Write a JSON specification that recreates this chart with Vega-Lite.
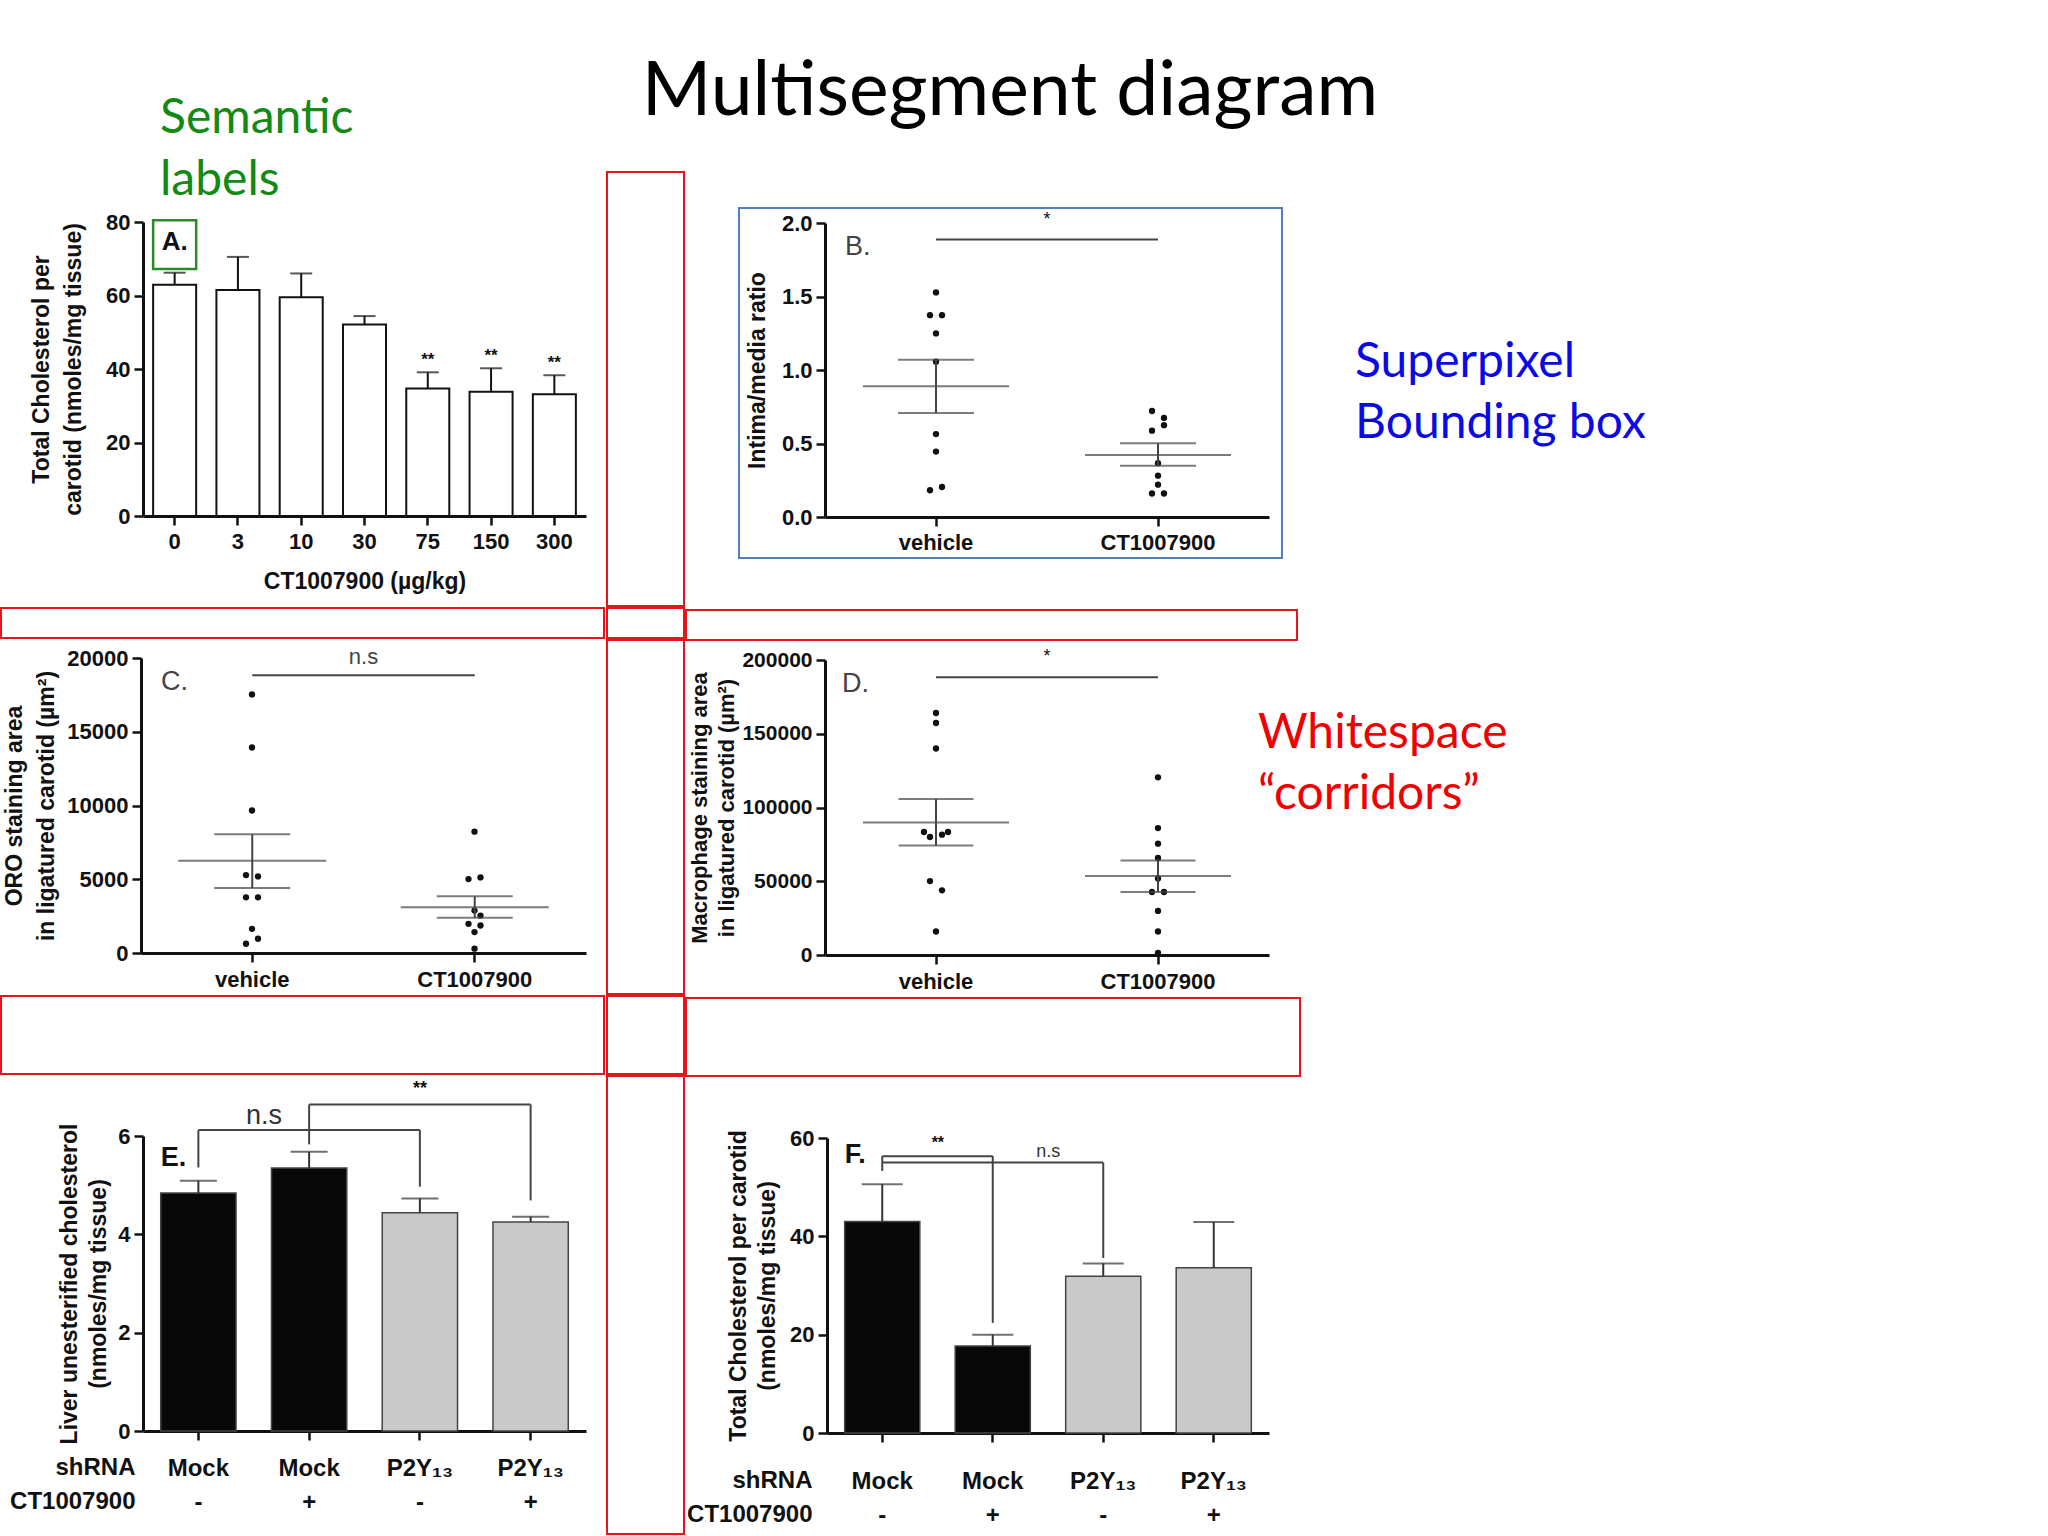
{
"$schema": "https://vega.github.io/schema/vega-lite/v6.json",
"padding": 0,
"background": "white",
"data": {"values": [{}]},
"datasets": {
"A": [
{"dose":"0","mean":62.9,"upper":66.2,"stars":""},
{"dose":"3","mean":61.5,"upper":70.5,"stars":""},
{"dose":"10","mean":59.5,"upper":66.0,"stars":""},
{"dose":"30","mean":52.1,"upper":54.4,"stars":""},
{"dose":"75","mean":34.7,"upper":39.1,"stars":"**"},
{"dose":"150","mean":33.8,"upper":40.2,"stars":"**"},
{"dose":"300","mean":33.1,"upper":38.3,"stars":"**"}],
"A_lab": [{"at":"0","y":74.6,"lo":67.2,"hi":80.5,"label":"A."}],
"B_pts": [
{"group":"vehicle","value":1.528,"slot":"C"},{"group":"vehicle","value":1.373,"slot":"L"},{"group":"vehicle","value":1.373,"slot":"R"},
{"group":"vehicle","value":1.249,"slot":"C"},{"group":"vehicle","value":1.056,"slot":"C"},{"group":"vehicle","value":0.564,"slot":"C"},
{"group":"vehicle","value":0.445,"slot":"C"},{"group":"vehicle","value":0.182,"slot":"L"},{"group":"vehicle","value":0.204,"slot":"R"},
{"group":"CT1007900","value":0.721,"slot":"L"},{"group":"CT1007900","value":0.674,"slot":"R"},{"group":"CT1007900","value":0.625,"slot":"R"},
{"group":"CT1007900","value":0.587,"slot":"L"},{"group":"CT1007900","value":0.366,"slot":"C"},{"group":"CT1007900","value":0.281,"slot":"C"},
{"group":"CT1007900","value":0.220,"slot":"C"},{"group":"CT1007900","value":0.160,"slot":"L"},{"group":"CT1007900","value":0.160,"slot":"R"}],
"B_sum": [{"group":"vehicle","mean":0.89,"lo":0.708,"hi":1.07},{"group":"CT1007900","mean":0.422,"lo":0.348,"hi":0.501}],
"B_sig": [{"from":"vehicle","to":"CT1007900","y":1.888,"label":"*"}],
"B_lab": [{"at":"vehicle","y":1.84,"label":"B."}],
"C_pts": [
{"group":"vehicle","value":17528,"slot":"C"},{"group":"vehicle","value":13933,"slot":"C"},{"group":"vehicle","value":9663,"slot":"C"},
{"group":"vehicle","value":5281,"slot":"L"},{"group":"vehicle","value":5191,"slot":"R"},{"group":"vehicle","value":3775,"slot":"L"},
{"group":"vehicle","value":3775,"slot":"R"},{"group":"vehicle","value":1640,"slot":"C"},{"group":"vehicle","value":966,"slot":"R"},
{"group":"vehicle","value":629,"slot":"L"},
{"group":"CT1007900","value":8225,"slot":"C"},{"group":"CT1007900","value":5011,"slot":"L"},{"group":"CT1007900","value":5124,"slot":"R"},
{"group":"CT1007900","value":2876,"slot":"C"},{"group":"CT1007900","value":2539,"slot":"R"},{"group":"CT1007900","value":1978,"slot":"L"},
{"group":"CT1007900","value":1865,"slot":"R"},{"group":"CT1007900","value":1416,"slot":"C"},{"group":"CT1007900","value":292,"slot":"C"}],
"C_sum": [{"group":"vehicle","mean":6247,"lo":4404,"hi":8045},{"group":"CT1007900","mean":3101,"lo":2382,"hi":3843}],
"C_sig": [{"from":"vehicle","to":"CT1007900","y":18831,"label":"n.s"}],
"C_lab": [{"at":"vehicle","y":18382,"label":"C."}],
"D_pts": [
{"group":"vehicle","value":164045,"slot":"C"},{"group":"vehicle","value":157303,"slot":"C"},{"group":"vehicle","value":140000,"slot":"C"},
{"group":"vehicle","value":83371,"slot":"LL"},{"group":"vehicle","value":80000,"slot":"L"},{"group":"vehicle","value":81573,"slot":"R"},
{"group":"vehicle","value":83371,"slot":"RR"},{"group":"vehicle","value":50112,"slot":"L"},{"group":"vehicle","value":43820,"slot":"R"},
{"group":"vehicle","value":15955,"slot":"C"},
{"group":"CT1007900","value":120449,"slot":"C"},{"group":"CT1007900","value":86067,"slot":"C"},{"group":"CT1007900","value":75506,"slot":"C"},
{"group":"CT1007900","value":65843,"slot":"C"},{"group":"CT1007900","value":51910,"slot":"C"},{"group":"CT1007900","value":42697,"slot":"L"},
{"group":"CT1007900","value":42697,"slot":"R"},{"group":"CT1007900","value":29888,"slot":"C"},{"group":"CT1007900","value":15955,"slot":"C"},
{"group":"CT1007900","value":1348,"slot":"C"}],
"D_sum": [{"group":"vehicle","mean":89888,"lo":74157,"hi":105843},{"group":"CT1007900","mean":53483,"lo":42697,"hi":64045}],
"D_sig": [{"from":"vehicle","to":"CT1007900","y":188315,"label":"*"}],
"D_lab": [{"at":"vehicle","y":183820,"label":"D."}],
"D_note": [{"at":"CT1007900","y":140300,"label":"Whitespace\n“corridors”"}],
"E": [
{"cond":"Mock|-","shRNA":"Mock","mean":4.84,"upper":5.09},
{"cond":"Mock|+","shRNA":"Mock","mean":5.35,"upper":5.68},
{"cond":"P2Y₁₃|-","shRNA":"P2Y₁₃","mean":4.44,"upper":4.73},
{"cond":"P2Y₁₃|+","shRNA":"P2Y₁₃","mean":4.25,"upper":4.36}],
"E_h": [{"from":"Mock|-","to":"P2Y₁₃|-","y":6.12},{"from":"Mock|+","to":"P2Y₁₃|+","y":6.64}],
"E_v": [{"at":"Mock|-","top":6.12,"bottom":5.36},{"at":"P2Y₁₃|-","top":6.12,"bottom":4.97},{"at":"Mock|+","top":6.64,"bottom":5.83},{"at":"P2Y₁₃|+","top":6.64,"bottom":4.69}],
"E_ns": [{"at":"Mock|-","y":6.12,"label":"n.s"}],
"E_star": [{"at":"P2Y₁₃|-","y":6.64,"label":"**"}],
"E_lab": [{"at":"Mock|-","y":5.56,"label":"E."}],
"F": [
{"cond":"Mock|-","shRNA":"Mock","mean":43.0,"upper":50.6},
{"cond":"Mock|+","shRNA":"Mock","mean":17.7,"upper":20.0},
{"cond":"P2Y₁₃|-","shRNA":"P2Y₁₃","mean":31.9,"upper":34.5},
{"cond":"P2Y₁₃|+","shRNA":"P2Y₁₃","mean":33.6,"upper":42.9}],
"F_h": [{"from":"Mock|-","to":"Mock|+","y":56.3},{"from":"Mock|-","to":"P2Y₁₃|-","y":55.0}],
"F_v": [{"at":"Mock|-","top":56.3,"bottom":53.3},{"at":"Mock|+","top":56.3,"bottom":22.4},{"at":"P2Y₁₃|-","top":55.0,"bottom":35.6}],
"F_star": [{"at":"Mock|-","y":56.3,"label":"**"}],
"F_ns": [{"at":"Mock|+","y":55.0,"label":"n.s"}],
"F_lab": [{"at":"Mock|-","y":56.5,"label":"F."}]
},
"config": {
"view": {"stroke": null},
"concat": {"spacing": 0},
"font": "Liberation Sans",
"text": {"font": "Liberation Sans", "color": "#111"},
"axis": {"grid": false, "domainColor": "#111", "domainWidth": 3, "tickColor": "#111", "tickWidth": 2.5, "tickSize": 9,
"labelFont": "Liberation Sans", "labelFontWeight": "bold", "labelFontSize": 22, "labelColor": "#111", "labelPadding": 4,
"titleFont": "Liberation Sans", "titleFontWeight": "bold", "titleFontSize": 23, "titleColor": "#111"}
},
"spacing": 0,
"hconcat": [
{"spacing": 0, "vconcat": [
 {"spacing": 0, "hconcat": [
  {"width": 158, "height": 205, "mark": {"type": "text", "text": ""}},
  {"width": 2, "height": 190, "data": {"values": [{"t": "Semantic\nlabels"}]},
   "mark": {"type": "text", "font": "Lato", "fontSize": 48, "color": "#138a13", "align": "left", "baseline": "top", "lineBreak": "\n", "lineHeight": 62},
   "encoding": {"text": {"field": "t"}}}
 ]},
 {"width": 605, "height": 402, "data": {"name": "A"},
  "encoding": {
   "x": {"field": "dose", "type": "nominal", "scale": {"type": "band", "domain": ["0","3","10","30","75","150","300"], "range": [142, 585], "paddingInner": 0.32, "paddingOuter": 0.16},
         "axis": {"orient": "bottom", "offset": -91, "bandPosition": 0.5, "labelAngle": 0, "labelPadding": 6, "title": "CT1007900 (µg/kg)", "titlePadding": 18}},
   "y": {"field": "mean", "type": "quantitative", "scale": {"domain": [0, 80], "range": [311, 17]},
         "axis": {"orient": "left", "offset": -142, "values": [0,20,40,60,80], "title": ["Total Cholesterol per", "carotid (nmoles/mg tissue)"], "titleLineHeight": 32, "titlePadding": 20}}
  },
  "layer": [
   {"mark": {"type": "bar", "fill": "white", "stroke": "#111", "strokeWidth": 2}},
   {"mark": {"type": "rule", "color": "#111", "strokeWidth": 2}, "encoding": {"y": {"field": "mean", "type": "quantitative"}, "y2": {"field": "upper"}}},
   {"mark": {"type": "tick", "color": "#111", "thickness": 2, "size": 22}, "encoding": {"y": {"field": "upper", "type": "quantitative"}}},
   {"mark": {"type": "text", "fontSize": 17, "fontWeight": "bold", "baseline": "alphabetic", "dy": -7}, "encoding": {"y": {"field": "upper", "type": "quantitative"}, "text": {"field": "stars"}}},
   {"data": {"name": "A_lab"}, "mark": {"type": "text", "fontSize": 26, "fontWeight": "bold", "baseline": "middle"},
    "encoding": {"x": {"field": "at", "type": "nominal"}, "y": {"field": "y", "type": "quantitative"}, "text": {"field": "label"}}},
   {"data": {"name": "A_lab"}, "mark": {"type": "rect", "filled": false, "color": "#2a8a2a", "stroke": "#2a8a2a", "strokeWidth": 2.5},
    "encoding": {"x": {"field": "at", "type": "nominal"}, "y": {"field": "lo", "type": "quantitative"}, "y2": {"field": "hi"}}}
  ]},
 {"width": 603, "height": 30, "mark": {"type": "text", "text": ""}, "view": {"stroke": "#e8141c", "strokeWidth": 2}},
 {"width": 605, "height": 356, "data": {"name": "C_pts"},
  "encoding": {
   "x": {"field": "group", "type": "nominal", "scale": {"type": "band", "domain": ["vehicle","CT1007900"], "range": [140, 585], "paddingInner": 0, "paddingOuter": 0},
         "axis": {"orient": "bottom", "offset": -42, "bandPosition": 0.5, "title": null, "labelAngle": 0, "labelPadding": 7}},
   "y": {"field": "value", "type": "quantitative", "scale": {"domain": [0, 20000], "range": [314, 19]},
         "axis": {"orient": "left", "offset": -140, "values": [0,5000,10000,15000,20000], "format": "d", "title": ["ORO staining area", "in ligatured carotid (µm²)"], "titleLineHeight": 32, "titlePadding": 8}}
  },
  "layer": [
   {"mark": {"type": "circle", "size": 40, "color": "#111", "opacity": 1},
    "encoding": {"xOffset": {"field": "slot", "type": "nominal", "scale": {"type": "band", "domain": ["LL","L","C","R","RR"], "range": [96, 126], "paddingInner": 0, "paddingOuter": 0}}}},
   {"data": {"name": "C_sum"}, "mark": {"type": "tick", "size": 148, "thickness": 2, "color": "#444"}, "encoding": {"y": {"field": "mean", "type": "quantitative"}}},
   {"data": {"name": "C_sum"}, "mark": {"type": "tick", "size": 76, "thickness": 2, "color": "#444"}, "encoding": {"y": {"field": "lo", "type": "quantitative"}}},
   {"data": {"name": "C_sum"}, "mark": {"type": "tick", "size": 76, "thickness": 2, "color": "#444"}, "encoding": {"y": {"field": "hi", "type": "quantitative"}}},
   {"data": {"name": "C_sum"}, "mark": {"type": "rule", "strokeWidth": 2, "color": "#444"}, "encoding": {"y": {"field": "lo", "type": "quantitative"}, "y2": {"field": "hi"}}},
   {"data": {"name": "C_sig"}, "mark": {"type": "rule", "strokeWidth": 2, "color": "#444"},
    "encoding": {"x": {"field": "from", "type": "nominal"}, "x2": {"field": "to"}, "y": {"field": "y", "type": "quantitative"}}},
   {"data": {"name": "C_sig"}, "mark": {"type": "text", "fontSize": 22, "baseline": "alphabetic", "dy": -11, "color": "#444"},
    "encoding": {"x": {"field": "to", "type": "nominal", "bandPosition": 0}, "y": {"field": "y", "type": "quantitative"}, "text": {"field": "label"}}},
   {"data": {"name": "C_lab"}, "mark": {"type": "text", "fontSize": 27, "align": "left", "baseline": "middle", "color": "#444"},
    "encoding": {"x": {"field": "at", "type": "nominal", "bandPosition": 0.09}, "y": {"field": "y", "type": "quantitative"}, "text": {"field": "label"}}}
  ]},
 {"width": 603, "height": 78, "mark": {"type": "text", "text": ""}, "view": {"stroke": "#e8141c", "strokeWidth": 2}},
 {"width": 605, "height": 461, "data": {"name": "E"},
  "encoding": {
   "x": {"field": "cond", "type": "nominal", "scale": {"type": "band", "domain": ["Mock|-","Mock|+","P2Y₁₃|-","P2Y₁₃|+"], "range": [142, 585], "paddingInner": 0.32, "paddingOuter": 0.16},
         "axis": {"orient": "bottom", "offset": -105, "bandPosition": 0.5, "labelAngle": 0, "labelExpr": "split(datum.label, '|')", "labelLineHeight": 34, "labelPadding": 16, "labelFontSize": 24,
                  "title": ["shRNA", "CT1007900"], "titleFontSize": 24, "titleX": 134, "titleY": 36, "titleAlign": "right", "titleBaseline": "middle", "titleAngle": 0, "titleLineHeight": 34}},
   "y": {"field": "mean", "type": "quantitative", "scale": {"domain": [0, 6], "range": [356, 61]},
         "axis": {"orient": "left", "offset": -142, "values": [0,2,4,6], "title": ["Liver unesterified cholesterol", "(nmoles/mg tissue)"], "titleLineHeight": 29, "titlePadding": 7}}
  },
  "layer": [
   {"mark": {"type": "bar", "stroke": "#444", "strokeWidth": 1.5},
    "encoding": {"color": {"field": "shRNA", "type": "nominal", "scale": {"domain": ["Mock","P2Y₁₃"], "range": ["#080808", "#c9c9c9"]}, "legend": null}}},
   {"mark": {"type": "rule", "color": "#333", "strokeWidth": 2}, "encoding": {"y": {"field": "mean", "type": "quantitative"}, "y2": {"field": "upper"}}},
   {"mark": {"type": "tick", "color": "#333", "thickness": 2, "size": 37}, "encoding": {"y": {"field": "upper", "type": "quantitative"}}},
   {"data": {"name": "E_h"}, "mark": {"type": "rule", "color": "#444", "strokeWidth": 2},
    "encoding": {"x": {"field": "from", "type": "nominal"}, "x2": {"field": "to"}, "y": {"field": "y", "type": "quantitative"}}},
   {"data": {"name": "E_v"}, "mark": {"type": "rule", "color": "#444", "strokeWidth": 2},
    "encoding": {"x": {"field": "at", "type": "nominal"}, "y": {"field": "top", "type": "quantitative"}, "y2": {"field": "bottom"}}},
   {"data": {"name": "E_ns"}, "mark": {"type": "text", "fontSize": 27, "baseline": "alphabetic", "dy": -6, "color": "#333"},
    "encoding": {"x": {"field": "at", "type": "nominal", "bandPosition": 1.37}, "y": {"field": "y", "type": "quantitative"}, "text": {"field": "label"}}},
   {"data": {"name": "E_star"}, "mark": {"type": "text", "fontSize": 18, "fontWeight": "bold", "baseline": "alphabetic", "dy": -11},
    "encoding": {"x": {"field": "at", "type": "nominal"}, "y": {"field": "y", "type": "quantitative"}, "text": {"field": "label"}}},
   {"data": {"name": "E_lab"}, "mark": {"type": "text", "fontSize": 27, "fontWeight": "bold", "align": "left", "baseline": "middle"},
    "encoding": {"x": {"field": "at", "type": "nominal", "bandPosition": 0}, "y": {"field": "y", "type": "quantitative"}, "text": {"field": "label"}}}
  ]}
]},
{"spacing": 0, "vconcat": [
 {"spacing": 0, "vconcat": [
  {"width": 806, "height": 12, "mark": {"type": "text", "text": ""}},
  {"width": 806, "height": 159, "data": {"values": [{"t": "Multisegment diagram"}]},
   "mark": {"type": "text", "font": "Lato", "fontSize": 75, "color": "#000", "align": "center", "baseline": "middle"},
   "encoding": {"text": {"field": "t"}}}
 ]},
 {"spacing": 0, "hconcat": [
  {"spacing": 0, "vconcat": [
   {"width": 77, "height": 434, "mark": {"type": "text", "text": ""}, "view": {"stroke": "#e8141c", "strokeWidth": 2}},
   {"width": 77, "height": 30, "mark": {"type": "text", "text": ""}, "view": {"stroke": "#e8141c", "strokeWidth": 2}},
   {"width": 77, "height": 354, "mark": {"type": "text", "text": ""}, "view": {"stroke": "#e8141c", "strokeWidth": 2}},
   {"width": 77, "height": 78, "mark": {"type": "text", "text": ""}, "view": {"stroke": "#e8141c", "strokeWidth": 2}},
   {"width": 77, "height": 458, "mark": {"type": "text", "text": ""}, "view": {"stroke": "#e8141c", "strokeWidth": 2}}
  ]},
  {"spacing": 0, "vconcat": [
   {"width": 10, "height": 35, "mark": {"type": "text", "text": ""}},
   {"spacing": 0, "hconcat": [
    {"width": 52, "height": 352, "mark": {"type": "text", "text": ""}},
    {"width": 543, "height": 350, "view": {"stroke": "#4f81bd", "strokeWidth": 2}, "data": {"name": "B_pts"},
     "encoding": {
      "x": {"field": "group", "type": "nominal", "scale": {"type": "band", "domain": ["vehicle","CT1007900"], "range": [86, 530], "paddingInner": 0, "paddingOuter": 0},
            "axis": {"orient": "bottom", "offset": -41, "bandPosition": 0.5, "title": null, "labelAngle": 0, "labelPadding": 6}},
      "y": {"field": "value", "type": "quantitative", "scale": {"domain": [0, 2], "range": [309, 15]},
            "axis": {"orient": "left", "offset": -86, "values": [0,0.5,1,1.5,2], "format": ".1f", "title": "Intima/media ratio", "titlePadding": 12}}
     },
     "layer": [
      {"mark": {"type": "circle", "size": 40, "color": "#111", "opacity": 1},
       "encoding": {"xOffset": {"field": "slot", "type": "nominal", "scale": {"type": "band", "domain": ["LL","L","C","R","RR"], "range": [96, 126], "paddingInner": 0, "paddingOuter": 0}}}},
      {"data": {"name": "B_sum"}, "mark": {"type": "tick", "size": 146, "thickness": 2, "color": "#444"}, "encoding": {"y": {"field": "mean", "type": "quantitative"}}},
      {"data": {"name": "B_sum"}, "mark": {"type": "tick", "size": 76, "thickness": 2, "color": "#444"}, "encoding": {"y": {"field": "lo", "type": "quantitative"}}},
      {"data": {"name": "B_sum"}, "mark": {"type": "tick", "size": 76, "thickness": 2, "color": "#444"}, "encoding": {"y": {"field": "hi", "type": "quantitative"}}},
      {"data": {"name": "B_sum"}, "mark": {"type": "rule", "strokeWidth": 2, "color": "#444"}, "encoding": {"y": {"field": "lo", "type": "quantitative"}, "y2": {"field": "hi"}}},
      {"data": {"name": "B_sig"}, "mark": {"type": "rule", "strokeWidth": 2, "color": "#444"},
       "encoding": {"x": {"field": "from", "type": "nominal"}, "x2": {"field": "to"}, "y": {"field": "y", "type": "quantitative"}}},
      {"data": {"name": "B_sig"}, "mark": {"type": "text", "fontSize": 18, "baseline": "alphabetic", "dy": -14},
       "encoding": {"x": {"field": "to", "type": "nominal", "bandPosition": 0}, "y": {"field": "y", "type": "quantitative"}, "text": {"field": "label"}}},
      {"data": {"name": "B_lab"}, "mark": {"type": "text", "fontSize": 27, "align": "left", "baseline": "middle", "color": "#444"},
       "encoding": {"x": {"field": "at", "type": "nominal", "bandPosition": 0.09}, "y": {"field": "y", "type": "quantitative"}, "text": {"field": "label"}}}
     ]},
    {"width": 71, "height": 10, "mark": {"type": "text", "text": ""}},
    {"width": 2, "height": 262, "data": {"values": [{"t": "Superpixel\nBounding box"}]},
     "mark": {"type": "text", "font": "Lato", "fontSize": 48, "color": "#0a0ae6", "align": "left", "baseline": "top", "lineBreak": "\n", "lineHeight": 61},
     "encoding": {"text": {"field": "t"}}}
   ]},
   {"width": 10, "height": 49, "mark": {"type": "text", "text": ""}},
   {"width": 611, "height": 30, "mark": {"type": "text", "text": ""}, "view": {"stroke": "#e8141c", "strokeWidth": 2}},
   {"width": 583, "height": 356, "data": {"name": "D_pts"},
     "encoding": {
      "x": {"field": "group", "type": "nominal", "scale": {"type": "band", "domain": ["vehicle","CT1007900"], "range": [139, 583], "paddingInner": 0, "paddingOuter": 0},
            "axis": {"orient": "bottom", "offset": -42, "bandPosition": 0.5, "title": null, "labelAngle": 0, "labelPadding": 7}},
      "y": {"field": "value", "type": "quantitative", "scale": {"domain": [0, 200000], "range": [314, 19]},
            "axis": {"orient": "left", "offset": -139, "values": [0,50000,100000,150000,200000], "format": "d", "labelFontSize": 21,
                     "title": ["Macrophage staining area", "in ligatured carotid (µm²)"], "titleFontSize": 22, "titleLineHeight": 27, "titlePadding": 3}}
     },
     "layer": [
      {"mark": {"type": "circle", "size": 40, "color": "#111", "opacity": 1},
       "encoding": {"xOffset": {"field": "slot", "type": "nominal", "scale": {"type": "band", "domain": ["LL","L","C","R","RR"], "range": [96, 126], "paddingInner": 0, "paddingOuter": 0}}}},
      {"data": {"name": "D_sum"}, "mark": {"type": "tick", "size": 146, "thickness": 2, "color": "#444"}, "encoding": {"y": {"field": "mean", "type": "quantitative"}}},
      {"data": {"name": "D_sum"}, "mark": {"type": "tick", "size": 75, "thickness": 2, "color": "#444"}, "encoding": {"y": {"field": "lo", "type": "quantitative"}}},
      {"data": {"name": "D_sum"}, "mark": {"type": "tick", "size": 75, "thickness": 2, "color": "#444"}, "encoding": {"y": {"field": "hi", "type": "quantitative"}}},
      {"data": {"name": "D_sum"}, "mark": {"type": "rule", "strokeWidth": 2, "color": "#444"}, "encoding": {"y": {"field": "lo", "type": "quantitative"}, "y2": {"field": "hi"}}},
      {"data": {"name": "D_sig"}, "mark": {"type": "rule", "strokeWidth": 2, "color": "#444"},
       "encoding": {"x": {"field": "from", "type": "nominal"}, "x2": {"field": "to"}, "y": {"field": "y", "type": "quantitative"}}},
      {"data": {"name": "D_sig"}, "mark": {"type": "text", "fontSize": 18, "baseline": "alphabetic", "dy": -15},
       "encoding": {"x": {"field": "to", "type": "nominal", "bandPosition": 0}, "y": {"field": "y", "type": "quantitative"}, "text": {"field": "label"}}},
      {"data": {"name": "D_lab"}, "mark": {"type": "text", "fontSize": 27, "align": "left", "baseline": "middle", "color": "#444"},
       "encoding": {"x": {"field": "at", "type": "nominal", "bandPosition": 0.077}, "y": {"field": "y", "type": "quantitative"}, "text": {"field": "label"}}},
      {"data": {"name": "D_note"}, "mark": {"type": "text", "font": "Lato", "fontSize": 48, "color": "#f00000", "align": "left", "baseline": "alphabetic", "lineBreak": "\n", "lineHeight": 61},
       "encoding": {"x": {"field": "at", "type": "nominal", "bandPosition": 0.95}, "y": {"field": "y", "type": "quantitative"}, "text": {"field": "label"}}}
     ]},
   {"width": 614, "height": 78, "mark": {"type": "text", "text": ""}, "view": {"stroke": "#e8141c", "strokeWidth": 2}},
   {"width": 600, "height": 461, "data": {"name": "F"},
    "encoding": {
     "x": {"field": "cond", "type": "nominal", "scale": {"type": "band", "domain": ["Mock|-","Mock|+","P2Y₁₃|-","P2Y₁₃|+"], "range": [141, 583], "paddingInner": 0.32, "paddingOuter": 0.16},
           "axis": {"orient": "bottom", "offset": -105, "bandPosition": 0.5, "labelAngle": 0, "labelExpr": "split(datum.label, '|')", "labelLineHeight": 34, "labelPadding": 27, "labelFontSize": 24,
                    "title": ["shRNA", "CT1007900"], "titleFontSize": 24, "titleX": 126, "titleY": 47, "titleAlign": "right", "titleBaseline": "middle", "titleAngle": 0, "titleLineHeight": 34}},
     "y": {"field": "mean", "type": "quantitative", "scale": {"domain": [0, 60], "range": [356, 61]},
           "axis": {"orient": "left", "offset": -141, "values": [0,20,40,60], "title": ["Total Cholesterol per carotid", "(nmoles/mg tissue)"], "titleLineHeight": 29, "titlePadding": 10}}
    },
    "layer": [
     {"mark": {"type": "bar", "stroke": "#444", "strokeWidth": 1.5},
      "encoding": {"color": {"field": "shRNA", "type": "nominal", "scale": {"domain": ["Mock","P2Y₁₃"], "range": ["#080808", "#c9c9c9"]}, "legend": null}}},
     {"mark": {"type": "rule", "color": "#333", "strokeWidth": 2}, "encoding": {"y": {"field": "mean", "type": "quantitative"}, "y2": {"field": "upper"}}},
     {"mark": {"type": "tick", "color": "#333", "thickness": 2, "size": 41}, "encoding": {"y": {"field": "upper", "type": "quantitative"}}},
     {"data": {"name": "F_h"}, "mark": {"type": "rule", "color": "#444", "strokeWidth": 2},
      "encoding": {"x": {"field": "from", "type": "nominal"}, "x2": {"field": "to"}, "y": {"field": "y", "type": "quantitative"}}},
     {"data": {"name": "F_v"}, "mark": {"type": "rule", "color": "#444", "strokeWidth": 2},
      "encoding": {"x": {"field": "at", "type": "nominal"}, "y": {"field": "top", "type": "quantitative"}, "y2": {"field": "bottom"}}},
     {"data": {"name": "F_star"}, "mark": {"type": "text", "fontSize": 16, "fontWeight": "bold", "baseline": "alphabetic", "dy": -8},
      "encoding": {"x": {"field": "at", "type": "nominal", "bandPosition": 1.24}, "y": {"field": "y", "type": "quantitative"}, "text": {"field": "label"}}},
     {"data": {"name": "F_ns"}, "mark": {"type": "text", "fontSize": 18, "baseline": "alphabetic", "dy": -6, "color": "#333"},
      "encoding": {"x": {"field": "at", "type": "nominal", "bandPosition": 1.24}, "y": {"field": "y", "type": "quantitative"}, "text": {"field": "label"}}},
     {"data": {"name": "F_lab"}, "mark": {"type": "text", "fontSize": 27, "fontWeight": "bold", "align": "left", "baseline": "middle"},
      "encoding": {"x": {"field": "at", "type": "nominal", "bandPosition": 0}, "y": {"field": "y", "type": "quantitative"}, "text": {"field": "label"}}}
    ]}
  ]}
 ]}
]}
]
}
